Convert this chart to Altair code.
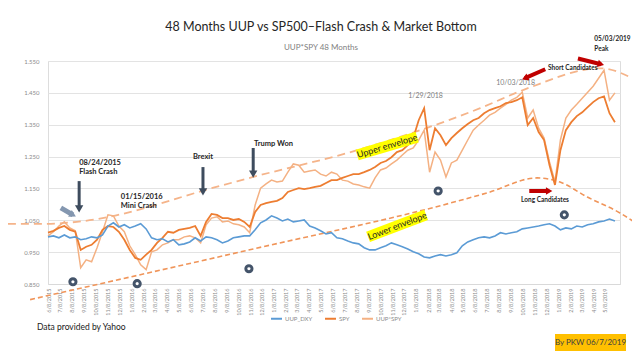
import altair as alt
import pandas as pd

# ---------------- data ----------------
dates = [d.strftime("%Y-%m-%d") for d in pd.date_range("2015-06-08", periods=105, freq="14D")]

uup = [0.998, 1.001, 0.995, 1.004, 0.995, 0.998, 0.989, 0.992, 0.998, 0.995,
       1.004, 1.032, 1.042, 1.029, 1.036, 1.026, 1.032, 1.039, 1.023, 0.995,
       0.989, 0.992, 0.982, 0.989, 0.973, 0.976, 0.982, 0.995, 0.985, 0.998,
       0.995, 0.989, 0.979, 0.985, 0.995, 0.998, 1.001, 1.001, 1.020, 1.042,
       1.051, 1.064, 1.057, 1.048, 1.054, 1.045, 1.048, 1.051, 1.032, 1.026,
       1.017, 1.007, 1.011, 0.995, 0.992, 0.985, 0.979, 0.976, 0.964, 0.957,
       0.957, 0.964, 0.970, 0.979, 0.973, 0.967, 0.960, 0.951, 0.945, 0.935,
       0.932, 0.938, 0.942, 0.938, 0.942, 0.948, 0.970, 0.982, 0.989, 0.995,
       0.998, 0.995, 1.001, 1.011, 1.007, 1.011, 1.014, 1.023, 1.026, 1.029,
       1.032, 1.036, 1.039, 1.032, 1.020, 1.026, 1.023, 1.032, 1.029, 1.036,
       1.039, 1.045, 1.048, 1.054, 1.048]

spy = [1.011, 1.017, 1.026, 1.032, 1.020, 1.014, 0.957, 0.967, 0.973, 0.989,
       1.020, 1.032, 1.029, 1.014, 0.989, 0.957, 0.932, 0.926, 0.942, 0.957,
       0.979, 0.995, 1.014, 1.011, 1.020, 1.023, 1.026, 1.032, 1.001, 1.045,
       1.070, 1.067, 1.057, 1.057, 1.051, 1.054, 1.045, 1.029, 1.076, 1.098,
       1.104, 1.108, 1.111, 1.120, 1.139, 1.145, 1.151, 1.148, 1.151, 1.155,
       1.158, 1.167, 1.176, 1.176, 1.183, 1.189, 1.195, 1.195, 1.201, 1.208,
       1.217, 1.230, 1.236, 1.248, 1.264, 1.270, 1.286, 1.308, 1.364, 1.402,
       1.270, 1.339, 1.317, 1.286, 1.308, 1.324, 1.339, 1.352, 1.364, 1.371,
       1.386, 1.396, 1.402, 1.408, 1.418, 1.421, 1.427, 1.436, 1.349, 1.371,
       1.327, 1.302, 1.223, 1.161, 1.270, 1.333, 1.358, 1.377, 1.389, 1.405,
       1.421, 1.433, 1.439, 1.386, 1.358]

uup_spy = [1.001, 1.014, 1.032, 1.045, 1.026, 1.017, 0.901, 0.926, 0.920, 0.964,
           1.014, 1.067, 1.064, 1.032, 1.014, 0.970, 0.942, 0.910, 0.895, 0.951,
           0.957, 0.973, 0.979, 0.989, 0.989, 0.998, 1.001, 0.995, 0.979, 1.036,
           1.057, 1.061, 1.045, 1.048, 1.039, 1.036, 1.029, 1.011, 1.098, 1.151,
           1.164, 1.176, 1.170, 1.173, 1.201, 1.227, 1.223, 1.201, 1.205, 1.208,
           1.195, 1.189, 1.201, 1.195, 1.176, 1.173, 1.164, 1.161, 1.155, 1.151,
           1.183, 1.208, 1.214, 1.227, 1.239, 1.255, 1.270, 1.277, 1.302, 1.333,
           1.201, 1.264, 1.239, 1.186, 1.230, 1.239, 1.270, 1.302, 1.333, 1.349,
           1.364, 1.380, 1.389, 1.402, 1.414, 1.427, 1.436, 1.452, 1.371, 1.396,
           1.339, 1.308, 1.233, 1.170, 1.302, 1.371, 1.396, 1.414, 1.433, 1.452,
           1.471, 1.496, 1.521, 1.427, 1.450]

series_names = ["UUP_DXY", "SPY", "UUP*SPY"]
series_colors = ["#5B9BD5", "#ED7D31", "#F4B183"]

y_ticks = [0.85, 0.95, 1.05, 1.15, 1.25, 1.35, 1.45, 1.55]
x_ticks = [d.strftime("%Y-%m-%d") for d in pd.date_range("2015-06-08", periods=48, freq=pd.DateOffset(months=1))]
x_domain = ["2015-06-08", "2019-06-16"]

# envelopes (hand drawn dashed curves)
upper_dates = ["2015-02-25", "2015-05-31", "2015-08-21", "2016-08-23", "2016-11-16",
               "2017-08-10", "2018-06-22", "2018-10-21", "2019-04-26", "2019-08-07"]
upper_vals = [1.039, 1.039, 1.045, 1.158, 1.186, 1.270, 1.402, 1.464, 1.527, 1.483]
lower_dates = ["2015-04-23", "2016-11-16", "2018-04-06", "2018-07-10", "2018-11-15",
               "2019-01-13", "2019-03-24", "2019-06-16", "2019-08-07"]
lower_vals = [0.801, 0.960, 1.104, 1.136, 1.183, 1.170, 1.123, 1.073, 1.032]

# ring markers
ring_dates = ["2015-08-11", "2016-01-23", "2016-11-05", "2018-03-06", "2019-01-24"]
ring_vals = [0.857, 0.851, 0.898, 1.142, 1.067]

# bold event notes (left aligned)
note_texts = ["08/24/2015", "Flash Crash", "01/15/2016", "Mini Crash", "Trump Won"]
note_dates = ["2015-08-27", "2015-08-27", "2015-12-12", "2015-12-12", "2016-11-18"]
note_vals = [1.230, 1.202, 1.123, 1.095, 1.289]
brexit_text = ["Brexit"]
brexit_date = ["2016-07-10"]
brexit_val = [1.248]
gray_texts = ["1/29/2018", "10/03/2018"]
gray_dates = ["2017-12-19", "2018-08-02"]
gray_vals = [1.439, 1.480]
small_texts = ["Short Candidates", "05/03/2019", "Peak", "Long Candidates"]
small_dates = ["2018-12-13", "2019-04-11", "2019-04-11", "2018-10-05"]
small_vals = [1.527, 1.618, 1.587, 1.114]

env_texts = ["Upper envelope", "Lower envelope"]
env_dates = ["2017-10-26", "2017-11-21"]
env_vals = [1.283, 1.032]
env_angles = [343, 339]
box_start_dates = ["2017-08-10", "2017-09-07"]
box_start_vals = [1.255, 0.998]
box_end_dates = ["2018-01-11", "2018-02-03"]
box_end_vals = [1.311, 1.067]

# arrows: shaft from start to head, head drawn at end
dark_start_dates = ["2015-08-27", "2016-07-10", "2016-11-16"]
dark_start_vals = [1.173, 1.217, 1.277]
dark_head_dates = ["2015-08-27", "2016-07-10", "2016-11-16"]
dark_head_vals = [1.086, 1.139, 1.195]
dark_angles = [90, 90, 90]

gray_start_dates = ["2015-07-11"]
gray_start_vals = [1.089]
gray_head_dates = ["2015-08-11"]
gray_head_vals = [1.067]
gray_angles = [28]

red_start_dates = ["2018-12-06", "2019-02-28", "2018-10-26"]
red_start_vals = [1.524, 1.558, 1.142]
red_head_dates = ["2018-10-15", "2019-04-28", "2018-12-16"]
red_head_vals = [1.496, 1.540, 1.142]
red_angles = [157, 15, 0]

title_text = "48 Months UUP vs SP500\u2013Flash Crash & Market Bottom"
subtitle_text = "UUP*SPY 48 Months"
source_text = "Data provided  by Yahoo"
credit_text = "By PKW 06/7/2019"

FONT = "Lato"

# ---------------- tables ----------------
rows = []
for name, vals in zip(series_names, [uup, spy, uup_spy]):
    for d, v in zip(dates, vals):
        rows.append({"date": d, "value": v, "series": name})
df = pd.DataFrame(rows)

def ms(s):
    return int(pd.Timestamp(s, tz="UTC").value // 10**6)

xscale = alt.Scale(type="utc", domain=[ms(x_domain[0]), ms(x_domain[1])])
xaxis = alt.Axis(values=[ms(t) for t in x_ticks], labelExpr="utcFormat(datum.value, '%-m/%-d/%Y')",
                 labelAngle=270, labelFontSize=5.5, labelColor="#8C8C8C", labelFont=FONT,
                 labelOverlap=False, labelBound=False, labelFlush=False, grid=False, ticks=False,
                 domain=True, domainColor="#D9D9D9", labelPadding=4, title=None)
yscale = alt.Scale(domain=[0.85, 1.55], nice=False, zero=False)
yaxis = alt.Axis(values=y_ticks, format=".3f", labelFontSize=6, labelColor="#8C8C8C", labelFont=FONT,
                 domain=False, ticks=False, grid=True, gridColor="#E3E3E3", gridWidth=1,
                 labelPadding=9, title=None)

X = alt.X("date:T", scale=xscale, axis=xaxis)
Y = alt.Y("value:Q", scale=yscale, axis=yaxis)

color = alt.Color("series:N", scale=alt.Scale(domain=series_names, range=series_colors),
                  legend=alt.Legend(orient="none", legendX=222, legendY=251, direction="horizontal",
                                    title=None, symbolType="stroke", symbolStrokeWidth=2,
                                    symbolSize=120, labelFontSize=6, labelColor="#8C8C8C",
                                    labelFont=FONT, columnPadding=8, labelOffset=2))

base = alt.Chart(df)
lines = [
    base.transform_filter(alt.datum.series == s).mark_line(strokeWidth=w, clip=False).encode(x=X, y=Y, color=color)
    for s, w in [("UUP*SPY", 1.5), ("SPY", 1.8), ("UUP_DXY", 1.6)]
]

env_up = alt.Chart(pd.DataFrame({"date": upper_dates, "value": upper_vals})).mark_line(
    color="#F5B48A", strokeWidth=1.8, strokeDash=[8, 5], interpolate="monotone", clip=False
).encode(x=X, y=Y)
env_lo = alt.Chart(pd.DataFrame({"date": lower_dates, "value": lower_vals})).mark_line(
    color="#F0955A", strokeWidth=1.6, strokeDash=[5, 3], interpolate="monotone", clip=False
).encode(x=X, y=Y)

rings = alt.Chart(pd.DataFrame({"date": ring_dates, "value": ring_vals})).mark_point(
    shape="circle", size=38, filled=False, stroke="#44546A", strokeWidth=3, fill="white", fillOpacity=1, opacity=1
).encode(x=X, y=Y)

def text_layer(texts, ds, vs, **kw):
    return alt.Chart(pd.DataFrame({"t": texts, "date": ds, "value": vs})).mark_text(
        font=FONT, baseline="middle", **kw).encode(x=X, y=Y, text="t:N")

notes = text_layer(note_texts, note_dates, note_vals, align="left", fontSize=7.5, fontWeight="bold", color="#262626")
brexit = text_layer(brexit_text, brexit_date, brexit_val, align="center", fontSize=7.5, fontWeight="bold", color="#262626")
grays = text_layer(gray_texts, gray_dates, gray_vals, align="left", fontSize=7, color="#7F7F7F")
smalls = text_layer(small_texts, small_dates, small_vals, align="left", fontSize=6.5, fontWeight="bold", color="#262626")

boxes = alt.Chart(pd.DataFrame({"date": box_start_dates, "value": box_start_vals,
                                "date2": box_end_dates, "value2": box_end_vals})).mark_rule(
    color="#FFFF00", strokeWidth=11, strokeCap="butt").encode(x=X, y=Y, x2="date2:T", y2="value2:Q")
env_labels = alt.Chart(pd.DataFrame({"t": env_texts, "date": env_dates, "value": env_vals, "ang": env_angles})).mark_text(
    font=FONT, fontSize=9, align="center", baseline="middle", color="#262626").encode(
    x=X, y=Y, text="t:N", angle=alt.Angle("ang:Q", scale=None))

def arrow(sd, sv, hd, hv, ang, col, w, size):
    d = pd.DataFrame({"date": sd, "value": sv, "date2": hd, "value2": hv, "ang": ang})
    shaft = alt.Chart(d).mark_rule(color=col, strokeWidth=w).encode(x=X, y=Y, x2="date2:T", y2="value2:Q")
    head = alt.Chart(d).mark_point(shape="triangle-right", filled=True, color=col, size=size, opacity=1).encode(
        x=alt.X("date2:T", scale=xscale, axis=xaxis), y=alt.Y("value2:Q", scale=yscale, axis=yaxis),
        angle=alt.Angle("ang:Q", scale=None))
    return [shaft, head]

arrows = (arrow(dark_start_dates, dark_start_vals, dark_head_dates, dark_head_vals, dark_angles, "#3E4C5E", 3, 70)
          + arrow(gray_start_dates, gray_start_vals, gray_head_dates, gray_head_vals, gray_angles, "#8497B0", 5, 60)
          + arrow(red_start_dates, red_start_vals, red_head_dates, red_head_vals, red_angles, "#C00000", 4, 55))

one = pd.DataFrame({"a": [0]})
title = alt.Chart(pd.DataFrame({"t": [title_text]})).mark_text(
    font=FONT, fontSize=12.5, color="#262626", align="center", baseline="middle").encode(
    text="t:N", x=alt.value(273), y=alt.value(-34))
subtitle = alt.Chart(pd.DataFrame({"t": [subtitle_text]})).mark_text(
    font=FONT, fontSize=8, color="#7F7F7F", align="center", baseline="middle").encode(
    text="t:N", x=alt.value(273), y=alt.value(-13))
source = alt.Chart(pd.DataFrame({"t": [source_text]})).mark_text(
    font=FONT, fontSize=8.5, color="#1A1A1A", align="left", baseline="middle").encode(
    text="t:N", x=alt.value(-11), y=alt.value(266))
credit_box = alt.Chart(one).mark_rect(color="#FFC000").encode(
    x=alt.value(507), x2=alt.value(578), y=alt.value(273), y2=alt.value(290))
credit = alt.Chart(pd.DataFrame({"t": [credit_text]})).mark_text(
    font=FONT, fontSize=8, color="#404040", align="center", baseline="middle").encode(
    text="t:N", x=alt.value(542.5), y=alt.value(281.5))

chart = alt.layer(
    env_up, env_lo, *lines, rings, boxes, env_labels, notes, brexit, grays, smalls, *arrows,
    title, subtitle, source, credit_box, credit
).properties(
    width=572, height=223,
    autosize=alt.AutoSizeParams(type="none"),
    padding={"left": 40, "top": 53, "right": 12, "bottom": 67},
).configure_view(stroke=None).configure(background="white")

chart.save("out.html", embed_options={"renderer": "svg", "actions": False})
